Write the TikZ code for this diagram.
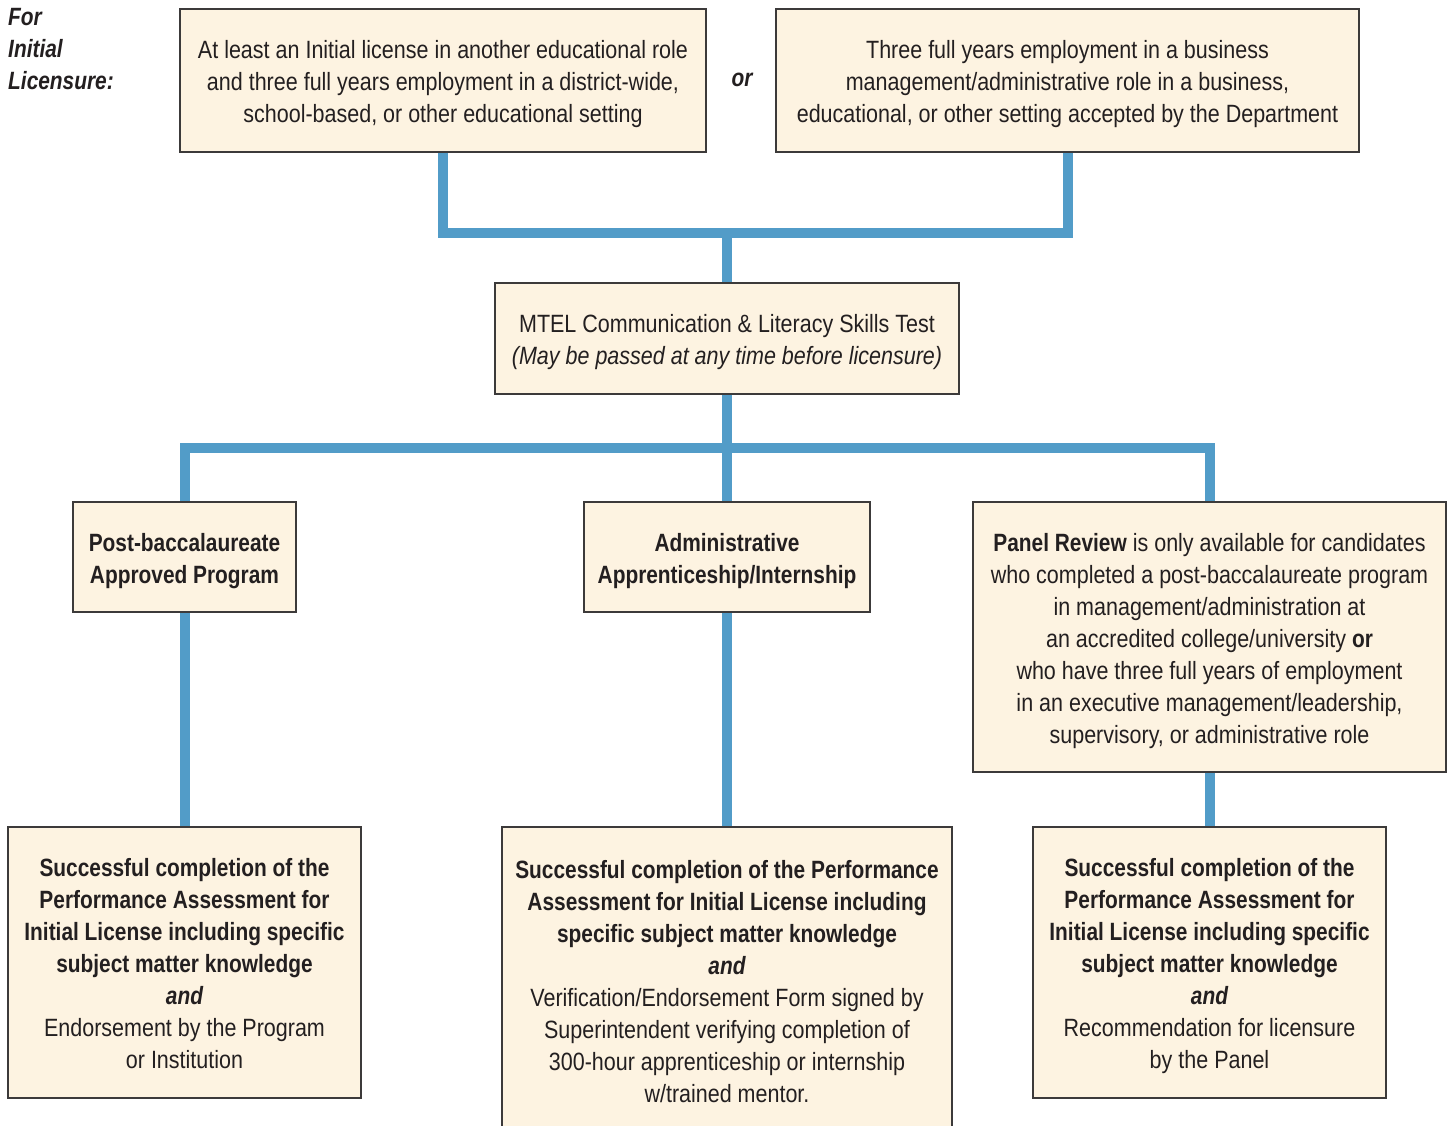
\documentclass[tikz,border=0pt]{standalone}
\usepackage{fontspec}
\setmainfont{Liberation Sans}[
  UprightFeatures={FakeStretch=0.86},
  ItalicFeatures={FakeStretch=0.86},
  BoldFeatures={FakeStretch=0.835},
  BoldItalicFeatures={FakeStretch=0.835}]
\usetikzlibrary{backgrounds}
\definecolor{boxfill}{HTML}{FDF3E1}
\definecolor{boxline}{HTML}{3C3A3A}
\definecolor{linkblue}{HTML}{529CC8}
\definecolor{ink}{HTML}{231F20}
\tikzset{
  box/.style={draw=boxline, line width=1.4pt, fill=boxfill, rectangle, inner sep=0pt},
  boxtext/.style={inner sep=0pt, align=center, text=ink, font=\fontsize{25}{32}\selectfont,
    execute at end node={\rule[-6pt]{0pt}{6pt}}},
  link/.style={draw=linkblue, line width=10pt, line join=miter},
  plain/.style={text=ink, font=\fontsize{25}{32}\selectfont\bfseries\itshape, inner sep=0pt}
}
% a framed box (#1) centred at (#2,#3), #4 wide and #5 high, holding the lines #6
\newcommand\framedstep[6]{%
  \node[box, minimum width=#4, minimum height=#5] (#1) at (#2,#3) {};
  \node[boxtext] (#1-text) at ([yshift=-4pt]#1.center) {#6};
}
\begin{document}
\begin{tikzpicture}[x=1pt, y=-1pt]
\useasboundingbox (0,0) rectangle (1448,1126);
\clip (0,0) rectangle (1448,1126);

% entry requirements
\node[plain, align=left, anchor=west] (intro) at (8,49) {For\\Initial\\Licensure:};
\framedstep{reqa}{443}{80.5}{526}{143}
  {At least an Initial license in another educational role\\
   and three full years employment in a district-wide,\\
   school-based, or other educational setting}
\node[plain] (or) at (742,80) {or};
\framedstep{reqb}{1067.5}{80.5}{583}{143}
  {Three full years employment in a business\\
   management/administrative role in a business,\\
   educational, or other setting accepted by the Department}

% test
\framedstep{mtel}{727}{338.5}{464}{111}
  {MTEL Communication \& Literacy Skills Test\\
   \itshape (May be passed at any time before licensure)}

% three routes
\framedstep{post}{184.5}{557}{223}{110}
  {\bfseries Post-baccalaureate\\ \bfseries Approved Program}
\framedstep{appr}{727}{557}{286}{110}
  {\bfseries Administrative\\ \bfseries Apprenticeship/Internship}
\framedstep{panel}{1209.5}{637}{473}{270}
  {\textbf{Panel Review} is only available for candidates\\
   who completed a post-baccalaureate program\\
   in management/administration at\\
   an accredited college/university \textbf{or}\\
   who have three full years of employment\\
   in an executive management/leadership,\\
   supervisory, or administrative role}

% outcomes
\framedstep{outa}{184.5}{962.5}{353}{271}
  {\bfseries Successful completion of the\\
   \bfseries Performance Assessment for\\
   \bfseries Initial License including specific\\
   \bfseries subject matter knowledge\\
   \bfseries\itshape and\\
   Endorsement by the Program\\
   or Institution}
\framedstep{outb}{727}{980}{450}{306}
  {\bfseries Successful completion of the Performance\\
   \bfseries Assessment for Initial License including\\
   \bfseries specific subject matter knowledge\\
   \bfseries\itshape and\\
   Verification/Endorsement Form signed by\\
   Superintendent verifying completion of\\
   300-hour apprenticeship or internship\\
   w/trained mentor.}
\framedstep{outc}{1209.5}{962.5}{353}{271}
  {\bfseries Successful completion of the\\
   \bfseries Performance Assessment for\\
   \bfseries Initial License including specific\\
   \bfseries subject matter knowledge\\
   \bfseries\itshape and\\
   Recommendation for licensure\\
   by the Panel}

% connectors
\coordinate (top) at (727,233);
\coordinate (split) at (727,448);
\begin{scope}[on background layer]
  \draw[link] (reqa.south) |- (reqb.south |- top) -- (reqb.south);
  \draw[link] (top) -- (mtel.north);
  \draw[link] (post.north) |- (panel.north |- split) -- (panel.north);
  \draw[link] (mtel.south) -- (appr.north);
  \draw[link] (post.south) -- (outa.north);
  \draw[link] (appr.south) -- (outb.north);
  \draw[link] (panel.south) -- (outc.north);
\end{scope}
\end{tikzpicture}
\end{document}
